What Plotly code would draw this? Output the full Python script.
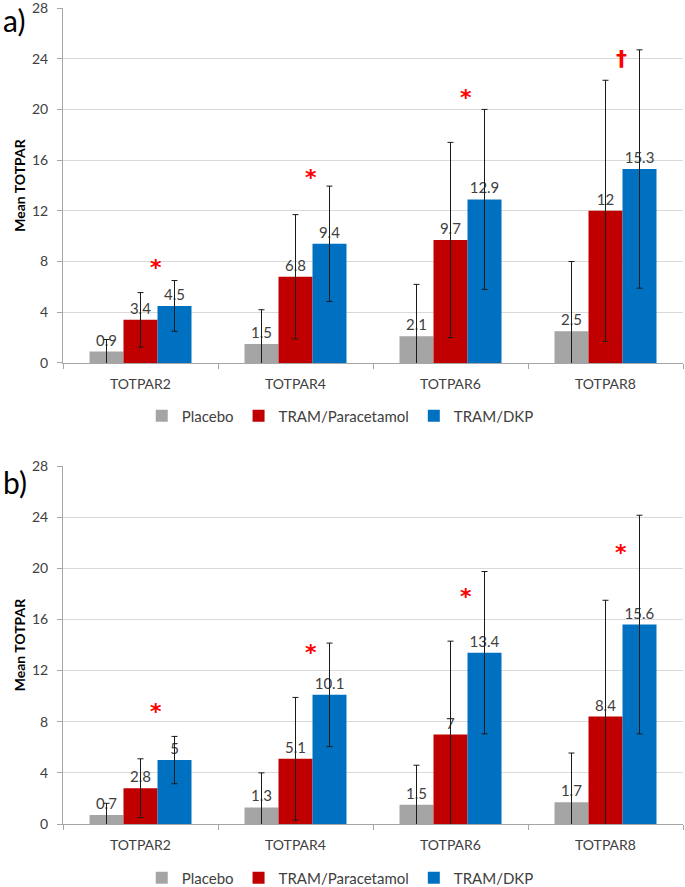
import plotly.graph_objects as go

categories = ["TOTPAR2", "TOTPAR4", "TOTPAR6", "TOTPAR8"]
groups = ["Placebo", "TRAM/Paracetamol", "TRAM/DKP"]
colors = ["#A5A5A5", "#C00000", "#0070C0"]

# panel a)
a_placebo = [0.9, 1.5, 2.1, 2.5]
a_placebo_err = [0.95, 2.7, 4.1, 5.5]
a_para = [3.4, 6.8, 9.7, 12]
a_para_err = [2.15, 4.9, 7.7, 10.3]
a_dkp = [4.5, 9.4, 12.9, 15.3]
a_dkp_err = [2.0, 4.55, 7.1, 9.4]
a_sig_y = [7.9, 15.0, 21.3, 24.0]
a_sig_mark = ["*", "*", "*", "†"]

# panel b)
b_placebo = [0.7, 1.3, 1.5, 1.7]
b_placebo_err = [0.92, 2.7, 3.1, 3.85]
b_para = [2.8, 5.1, 7, 8.4]
b_para_err = [2.3, 4.8, 7.3, 9.1]
b_dkp = [5, 10.1, 13.4, 15.6]
b_dkp_err = [1.85, 4.05, 6.35, 8.55]
b_sig_y = [9.2, 13.8, 18.2, 21.6]
b_sig_mark = ["*", "*", "*", "*"]

FONT = "Lato, 'Open Sans', sans-serif"
GRID = "#D9D9D9"
AXIS = "#A6A6A6"

fig = go.Figure()

panels = [
    ("x", "y", "legend", [a_placebo, a_para, a_dkp], [a_placebo_err, a_para_err, a_dkp_err]),
    ("x2", "y2", "legend2", [b_placebo, b_para, b_dkp], [b_placebo_err, b_para_err, b_dkp_err]),
]

for xa, ya, leg, means, errs in panels:
    for name, color, vals, err in zip(groups, colors, means, errs):
        fig.add_trace(
            go.Bar(
                x=categories,
                y=vals,
                name=name,
                marker=dict(color=color, line=dict(width=0)),
                error_y=dict(type="data", array=err, color="#1a1a1a", thickness=1, width=3),
                texttemplate="%{y}",
                textposition="outside",
                constraintext="none",
                textfont=dict(size=15, color="#404040", family=FONT),
                xaxis=xa,
                yaxis=ya,
                legend=leg,
                hoverinfo="skip",
            )
        )

# significance markers, between the red and blue bars
for xa, ya, sig_y, marks in [("x", "y", a_sig_y, a_sig_mark), ("x2", "y2", b_sig_y, b_sig_mark)]:
    for i, (v, m) in enumerate(zip(sig_y, marks)):
        fig.add_annotation(
            x=i + 0.1,
            y=v,
            xref=xa,
            yref=ya,
            text=f"<b>{m}</b>",
            showarrow=False,
            font=dict(size=22, color="#FF0000", family="DejaVu Sans"),
            yshift=-5 if m == "*" else 0,
        )

# panel letters
for txt, y in [("a)", 0.9853), ("b)", 0.4191)]:
    fig.add_annotation(
        x=-0.1,
        y=y,
        xref="paper",
        yref="paper",
        text=txt,
        showarrow=False,
        xanchor="left",
        yanchor="middle",
        font=dict(size=30, color="#000000", family=FONT),
    )

xaxis_style = dict(
    type="category",
    automargin=False,
    showline=True,
    linecolor=AXIS,
    ticks="outside",
    tickson="boundaries",
    ticklen=5,
    tickcolor=AXIS,
    tickfont=dict(size=14, color="#404040", family=FONT),
    ticklabelstandoff=8,
    showgrid=False,
    zeroline=False,
)
yaxis_style = dict(
    range=[0, 28],
    dtick=4,
    automargin=False,
    showgrid=True,
    gridcolor=GRID,
    gridwidth=1,
    zeroline=False,
    showline=True,
    linecolor=AXIS,
    ticks="outside",
    ticklen=5,
    tickcolor=AXIS,
    tickfont=dict(size=14, color="#404040", family=FONT),
    ticklabelstandoff=6,
    ticklabeloverflow="allow",
    title=dict(text="<b>Mean TOTPAR</b>", font=dict(size=14, color="#000000", family=FONT)),
)

legend_style = dict(
    orientation="h",
    xanchor="left",
    yanchor="middle",
    x=0.127,
    font=dict(size=15, color="#404040", family=FONT),
    bgcolor="rgba(0,0,0,0)",
)

fig.update_layout(
    template="none",
    width=685,
    height=887,
    margin=dict(l=63, r=2, t=8, b=63, autoexpand=False),
    paper_bgcolor="white",
    plot_bgcolor="white",
    barmode="group",
    bargap=0.342,
    bargroupgap=0,
    font=dict(family=FONT),
    xaxis=dict(domain=[0, 1], anchor="y", **xaxis_style),
    yaxis=dict(domain=[0.565, 1], anchor="x", **yaxis_style),
    xaxis2=dict(domain=[0, 1], anchor="y2", **xaxis_style),
    yaxis2=dict(domain=[0, 0.4387], anchor="x2", **yaxis_style),
    legend=dict(y=0.5, **legend_style),
    legend2=dict(y=-0.0662, **legend_style),
)

# the page body has a default 8px margin; drop it so the figure fills the window
fig.write_html(
    "out.html",
    config={"displayModeBar": False},
    post_script="document.body.style.margin='0';",
)
